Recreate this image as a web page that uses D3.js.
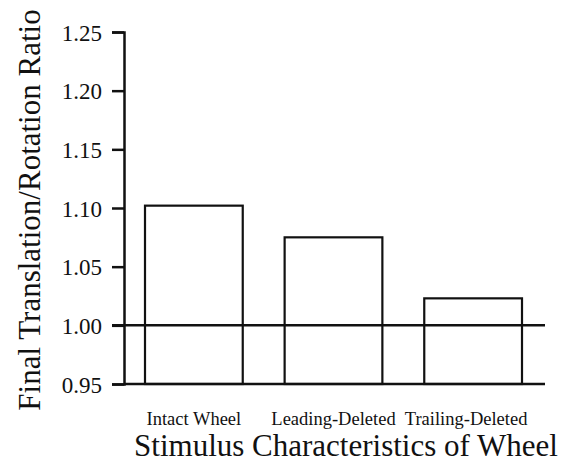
<!DOCTYPE html>
<html><head><meta charset="utf-8">
<script src="https://cdn.jsdelivr.net/npm/d3@7"></script>
<style>body{margin:0;background:#fff}svg{display:block}text{font-family:"Liberation Serif","Times New Roman",serif;fill:#111}</style>
</head><body>
<script>
const categories = ["Intact Wheel", "Leading-Deleted", "Trailing-Deleted"];
const values = [1.102, 1.075, 1.023];
const yTicks = [0.95, 1.00, 1.05, 1.10, 1.15, 1.20, 1.25];
const refValue = 1.00;
const yTitle = "Final Translation/Rotation Ratio";
const xTitle = "Stimulus Characteristics of Wheel";

const W = 562, H = 463;
const serif = '"Liberation Serif", "Times New Roman", serif';
const svg = d3.select("body").append("svg").attr("width", W).attr("height", H);
const axisX = 124, lineEnd = 545;
const y = d3.scaleLinear().domain([0.95, 1.25]).range([384, 32]);
const x = d3.scaleBand().domain(categories).range([145, 522]).paddingInner(0.3).paddingOuter(0);

// bars
svg.selectAll("rect.bar").data(categories).enter().append("rect")
  .attr("x", d => x(d)).attr("width", x.bandwidth())
  .attr("y", (d,i) => y(values[i])).attr("height", (d,i) => y(0.95) - y(values[i]))
  .attr("fill", "none").attr("stroke", "#111").attr("stroke-width", 2.2);

// y axis
const yAxis = d3.axisLeft(y).tickValues(yTicks).tickSize(12).tickPadding(10)
  .tickFormat(d3.format(".2f"));
const gy = svg.append("g").attr("transform", `translate(${axisX},0)`).call(yAxis);
gy.attr("font-family", null).attr("font-size", null);
gy.select(".domain").attr("stroke", "#111").attr("stroke-width", 2.5);
gy.selectAll(".tick line").attr("stroke", "#111").attr("stroke-width", 2.5);
gy.selectAll(".tick text").attr("fill", "#111").attr("dy", "0.36em")
  .style("font-family", serif).style("font-size", "23px");

// baseline and reference line
svg.append("line").attr("x1", axisX).attr("x2", lineEnd).attr("y1", y(0.95)).attr("y2", y(0.95))
  .attr("stroke", "#111").attr("stroke-width", 2.5);
svg.append("line").attr("x1", axisX - 12).attr("x2", lineEnd).attr("y1", y(refValue)).attr("y2", y(refValue))
  .attr("stroke", "#111").attr("stroke-width", 2.5);

// x labels
svg.selectAll("text.xl").data(categories).enter().append("text")
  .attr("x", (d,i) => x(d) + x.bandwidth()/2 + (i===2 ? -7 : 0))
  .attr("y", 425).attr("text-anchor", "middle").attr("font-size", 18.5)
  .text(d => d);

svg.append("text").attr("x", 346).attr("y", 456).attr("text-anchor", "middle")
  .attr("font-size", 31).text(xTitle);

svg.append("text").attr("transform", "translate(40,210) rotate(-90)")
  .attr("text-anchor", "middle").attr("font-size", 31).text(yTitle);
</script>
</body></html>
